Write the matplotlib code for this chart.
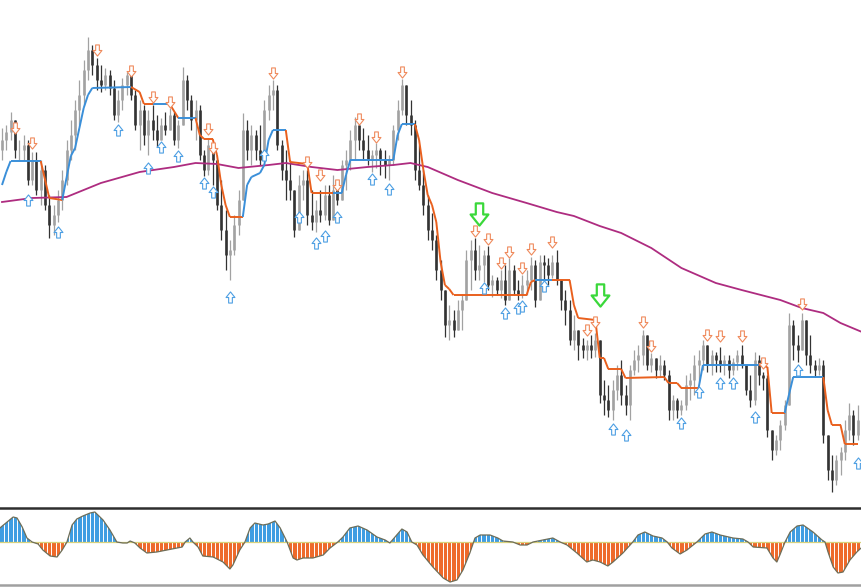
import numpy as np
import matplotlib.pyplot as plt
from matplotlib.path import Path
from matplotlib.collections import LineCollection

# price bars (one per bar index)
highs = [472, 475, 488, 463, 460, 465, 460, 448, 448, 440,
         435, 405, 395, 410, 430, 460, 480, 500, 520, 540,
         563, 555, 542, 535, 532, 530, 520, 510, 522, 528,
         518, 510, 500, 495, 490, 495, 485, 482, 488, 492,
         488, 480, 533, 525, 505, 500, 495, 450, 462, 445,
         440, 420, 390, 360, 385, 410, 487, 480, 475, 470,
         475, 500, 515, 520, 515, 460, 450, 440, 405, 425,
         430, 430, 410, 400, 410, 415, 415, 425, 408, 440,
         450, 470, 483, 473, 472, 465, 450, 457, 452, 450,
         445, 475, 500, 521, 515, 500, 480, 455, 430, 405,
         387, 365, 340, 310, 295, 290, 300, 305, 350, 360,
         362, 355, 350, 354, 325, 323, 330, 335, 342, 335,
         320, 325, 330, 343, 340, 345, 345, 342, 345, 350,
         320, 310, 300, 285, 270, 262, 260, 265, 267, 260,
         220, 215, 220, 235, 240, 215, 235, 250, 255, 270,
         255, 247, 242, 245, 240, 230, 205, 202, 200, 225,
         227, 245, 250, 260, 255, 250, 248, 253, 245, 245,
         242, 250, 255, 235, 225, 248, 245, 228, 225, 170,
         165, 180, 200, 287, 280, 265, 287, 275, 265, 240,
         242, 240, 160, 145, 145, 153, 180, 197, 190, 195]
lows = [440, 450, 460, 442, 440, 440, 415, 415, 405, 395,
        390, 362, 365, 378, 390, 415, 440, 450, 475, 495,
        520, 525, 510, 508, 510, 505, 480, 478, 490, 505,
        500, 470, 450, 455, 445, 460, 453, 462, 465, 470,
        455, 452, 475, 490, 470, 460, 440, 424, 425, 415,
        390, 360, 330, 320, 345, 365, 400, 440, 435, 440,
        435, 453, 480, 490, 450, 420, 400, 400, 363, 393,
        400, 375, 370, 368, 378, 380, 375, 385, 395, 400,
        410, 430, 440, 450, 440, 435, 428, 432, 425, 422,
        420, 435, 460, 485, 475, 465, 420, 410, 385, 360,
        350, 320, 300, 263, 260, 263, 270, 270, 300, 310,
        320, 320, 318, 310, 303, 305, 302, 295, 300, 305,
        300, 302, 305, 310, 293, 322, 320, 315, 322, 315,
        290, 275, 255, 250, 240, 242, 240, 242, 243, 197,
        185, 183, 180, 200, 195, 185, 180, 225, 228, 235,
        230, 228, 222, 223, 220, 180, 180, 182, 185, 190,
        200, 205, 218, 230, 228, 225, 228, 228, 225, 222,
        225, 230, 232, 205, 193, 195, 215, 210, 163, 140,
        145, 150, 170, 243, 240, 238, 255, 235, 227, 223,
        225, 157, 120, 108, 115, 125, 140, 160, 155, 160]
closes = [460, 468, 480, 450, 450, 455, 420, 440, 410, 430,
          395, 375, 385, 400, 420, 450, 465, 490, 505, 530,
          550, 535, 520, 515, 525, 512, 485, 500, 515, 525,
          505, 475, 490, 465, 480, 470, 460, 475, 470, 485,
          460, 475, 520, 500, 480, 490, 445, 430, 455, 440,
          395, 370, 345, 350, 375, 400, 470, 450, 465, 450,
          440, 490, 505, 510, 455, 430, 420, 410, 370, 415,
          420, 385, 378, 390, 385, 405, 380, 410, 400, 435,
          440, 460, 475, 460, 450, 440, 445, 450, 440, 435,
          440, 470, 490, 515, 485, 475, 430, 415, 395, 370,
          360, 330, 310, 275, 280, 270, 290, 300, 340, 350,
          330, 335, 345, 315, 320, 310, 320, 300, 330, 310,
          305, 315, 320, 335, 300, 338, 335, 325, 338, 320,
          300, 290, 260, 270, 255, 250, 255, 250, 260, 205,
          200, 190, 210, 225, 205, 195, 230, 240, 245, 265,
          235, 242, 230, 235, 225, 190, 200, 190, 195, 215,
          220, 235, 240, 255, 235, 245, 240, 235, 240, 230,
          238, 245, 235, 210, 200, 240, 225, 222, 170, 150,
          160, 175, 195, 275, 255, 250, 280, 245, 235, 230,
          235, 165, 130, 120, 140, 148, 170, 185, 165, 180]
first_open = 450

# trailing stop line: vertices and trend of the segment that starts there
trail_idx = [0, 1, 2, 9, 11, 14, 15, 16, 17, 18, 19, 20, 21, 30, 32, 33, 35, 39, 41, 45,
             46, 47, 49, 50, 51, 52, 53, 56, 57, 58, 60, 61, 62, 63, 66, 67, 71, 72, 77, 79,
             80, 81, 91, 92, 93, 96, 97, 98, 99, 100, 101, 102, 103, 104, 105, 122, 123, 124,
             128, 132, 133, 134, 138, 139, 140, 141, 144, 145, 154, 155, 157, 158, 162, 163,
             176, 178, 179, 182, 183, 184, 191, 192, 193, 195, 196, 199]
trail_price = [415, 428, 439, 439, 402, 400, 422, 444, 452, 472, 492, 505, 512, 513, 508,
               496, 496, 496, 482, 482, 465, 461, 461, 445, 415, 395, 383, 383, 415, 423,
               427, 435, 460, 470, 470, 438, 436, 407, 407, 407, 425, 440, 440, 465, 476,
               476, 460, 430, 405, 395, 378, 338, 315, 311, 305, 305, 318, 320, 320, 320,
               295, 282, 280, 242, 242, 231, 231, 222, 223, 217, 217, 212, 212, 235, 235,
               233, 187, 187, 205, 223, 223, 190, 175, 175, 156, 156]
trail_dir = [1, 1, 1, -1, -1, 1, 1, 1, 1, 1, 1, 1, 1, -1, -1, -1, 1, -1, 1, -1,
             -1, -1, -1, -1, -1, -1, -1, 1, 1, 1, 1, 1, 1, 1, -1, -1, -1, -1, 1, 1,
             1, 1, 1, 1, 1, -1, -1, -1, -1, -1, -1, -1, -1, -1, -1, -1, -1, 1, -1, -1,
             -1, -1, -1, -1, -1, -1, -1, -1, -1, -1, -1, -1, 1, 1, -1, -1, -1, 1, 1, 1,
             -1, -1, -1, -1, -1, -1]

# slow moving average
ma_idx = [0, 7, 15, 23, 32, 40, 45, 50, 55, 62, 66, 72, 78, 85, 91, 95, 99, 106, 114, 122,
          129, 133, 139, 144, 151, 158, 166, 172, 181, 186, 191, 195, 200]
ma_price = [398, 402, 403, 417, 428, 433, 437, 436, 432, 435, 437, 433, 430, 433, 435, 437,
            433, 420, 407, 397, 388, 384, 374, 367, 352, 332, 317, 310, 300, 292, 287, 277, 268]

# signal arrows
dn_idx = [3, 7, 22, 30, 35, 39, 48, 49, 63, 71, 74, 78, 83, 87, 93, 110, 113, 116, 118, 121,
          123, 128, 136, 138, 149, 151, 164, 167, 172, 177, 186]
dn_price = [472, 457, 550, 529, 503, 498, 471, 452, 527, 438, 425, 415, 481, 463, 528, 369,
            361, 337, 348, 332, 351, 358, 270, 278, 278, 254, 265, 264, 264, 237, 296]
up_idx = [6, 13, 27, 34, 37, 41, 47, 49, 53, 61, 69, 73, 75, 78, 86, 90, 112, 117, 120, 121,
          126, 142, 145, 158, 162, 167, 170, 175, 185, 199]
up_price = [400, 368, 470, 432, 453, 444, 417, 408, 303, 445, 383, 357, 364, 383, 421, 411,
            312, 287, 292, 294, 314, 171, 165, 177, 208, 217, 217, 183, 230, 137]
big_idx = [111, 139]
big_price = [386, 305]

# oscillator curve
osc_x = [-0.5, 1.2, 2.6, 3.5, 4.7, 5.8, 7.0, 8.4, 9.5, 11.2,
         12.8, 14.0, 15.1, 16.3, 17.4, 18.8, 20.5, 21.6, 22.3, 23.5,
         25.1, 26.7, 28.1, 29.1, 29.8, 30.9, 32.1, 33.7, 36.0, 38.4,
         40.7, 41.9, 42.6, 43.7, 44.4, 45.6, 46.7, 49.1, 51.4, 53.0,
         53.7, 55.3, 56.5, 57.7, 58.8, 60.7, 61.9, 63.5, 64.7, 66.3,
         67.7, 68.6, 70.0, 72.3, 74.7, 76.3, 78.1, 79.3, 80.9, 82.8,
         84.9, 87.2, 89.1, 90.2, 91.4, 93.0, 94.2, 95.3, 96.5, 97.9,
         100.2, 102.6, 104.2, 105.8, 107.2, 108.8, 110.0, 111.2, 113.5, 115.3,
         116.5, 118.8, 120.5, 122.1, 123.5, 125.8, 128.1, 129.8, 131.4, 133.7,
         136.0, 137.4, 139.1, 140.9, 142.1, 144.4, 146.7, 147.9, 149.5, 151.4,
         153.5, 154.7, 155.8, 157.7, 159.3, 161.6, 163.5, 165.1, 167.0, 170.0,
         172.3, 173.5, 174.7, 177.9, 179.3, 180.2, 180.9, 182.1, 183.3, 184.9,
         186.3, 188.6, 190.7, 191.4, 192.1, 193.3, 194.4, 195.6, 197.2, 198.8,
         199.8]
osc_v = [14, 20, 25, 24, 15, 4, 0, -2, -8, -14,
         -15, -8, 0, 17, 23, 26, 29, 30, 27, 22,
         12, 0, -1, -1, 1, -1, -6, -11, -10, -8,
         -6, -5, 0, 4, 0, -5, -14, -15, -20, -27,
         -23, -8, 0, 14, 19, 17, 18, 21, 14, 0,
         -16, -18, -16, -16, -13, -6, 0, 5, 14, 16,
         12, 5, 2, -1, 5, 13, 10, 0, -3, -13,
         -25, -36, -40, -38, -28, -11, 4, 7, 7, 4,
         1, 0, -3, -3, 0, 2, 4, 0, -3, -11,
         -20, -18, -20, -24, -20, -11, 0, 7, 10, 6,
         4, 0, -6, -12, -8, 0, 8, 10, 7, 4,
         3, 0, -5, -6, -16, -20, -13, 0, 10, 16,
         17, 10, 2, 0, -10, -25, -31, -30, -18, -10,
         -6]

BLUE = '#3a8fd9'
ORANGE = '#e9601e'

fig = plt.figure(figsize=(8.61, 5.88), dpi=100)
ax = fig.add_axes([0, 81 / 588, 1, 507 / 588])
osc = fig.add_axes([0, 3 / 588, 1, 77 / 588])
xlim = (-2 / 4.3, 859 / 4.3)

# candles
hi = np.array(highs, dtype=float)
lo = np.array(lows, dtype=float)
cl = np.array(closes, dtype=float)
op = np.r_[first_open, cl[:-1]]
idx = np.arange(len(cl))
cols = np.where(cl >= op, '#a2a2a2', '#333333')
b_lo = np.minimum(op, cl)
b_hi = np.maximum(op, cl)
ax.vlines(idx, np.minimum(lo, b_lo), np.maximum(hi, b_hi), colors=cols, lw=0.9, zorder=1)
ax.vlines(idx, b_lo, b_hi, colors=cols, lw=1.9, zorder=1)

# moving average
ax.plot(ma_idx, ma_price, color='#ae2c80', lw=1.3, zorder=2)

# trailing line
pts = np.column_stack([trail_idx, trail_price])
segs = np.stack([pts[:-1], pts[1:]], axis=1)
seg_cols = [BLUE if d > 0 else ORANGE for d in trail_dir[:-1]]
ax.add_collection(LineCollection(segs, colors=seg_cols, lw=1.4, zorder=3))

# hollow arrow markers
up_arrow = Path([(-0.2, -0.6), (0.2, -0.6), (0.2, 0.0), (0.48, 0.0), (0, 0.6),
                 (-0.48, 0.0), (-0.2, 0.0), (-0.2, -0.6)],
                [Path.MOVETO] + [Path.LINETO] * 6 + [Path.CLOSEPOLY])
dn_arrow = Path(up_arrow.vertices * [1, -1], up_arrow.codes)
ax.plot(dn_idx, dn_price, ls='none', marker=dn_arrow, ms=8, mfc='white',
        mec='#ef8a5c', mew=0.8, zorder=4)
ax.plot(up_idx, up_price, ls='none', marker=up_arrow, ms=8, mfc='white',
        mec='#4d9fe3', mew=0.8, zorder=4)
ax.plot(big_idx, big_price, ls='none', marker=dn_arrow, ms=16, mfc='white',
        mec='#3ad83a', mew=1.6, zorder=4)

ax.set_xlim(*xlim)
ax.set_ylim(93, 600)
ax.set_axis_off()

# oscillator histogram
ox = np.array(osc_x)
ov = np.array(osc_v, dtype=float)
osc.fill_between(ox, ov, 0, where=ov >= 0, interpolate=True, color='#3f9de2', lw=0)
osc.fill_between(ox, ov, 0, where=ov <= 0, interpolate=True, color='#ee6a2b', lw=0)
osc.vlines(idx + 0.5, -43, 34, colors='white', lw=0.7, zorder=2)
osc.axhline(0, color='#d8d27c', lw=0.9, zorder=3)
osc.plot(ox, ov, color='#6e6e58', lw=0.9, zorder=4)
osc.set_xlim(*xlim)
osc.set_ylim(-43, 34)
osc.set_xticks([])
osc.set_yticks([])
osc.spines['left'].set_visible(False)
osc.spines['right'].set_visible(False)
osc.spines['top'].set_color('#2e2e2e')
osc.spines['top'].set_linewidth(1.8)
osc.spines['bottom'].set_color('#a0a0a0')
osc.spines['bottom'].set_linewidth(1.8)

fig.savefig('out.png', dpi=100)
